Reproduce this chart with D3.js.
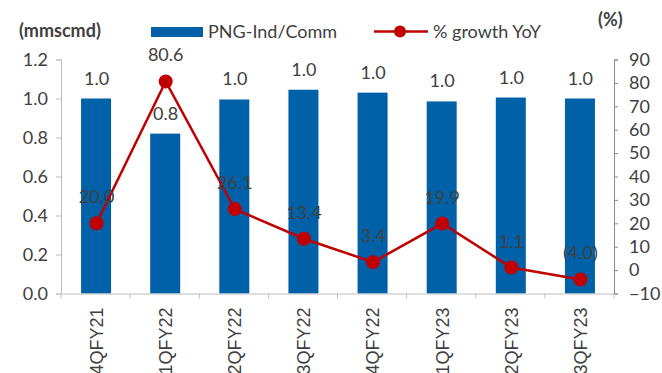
<!DOCTYPE html>
<html>
<head>
<meta charset="utf-8">
<script src="https://cdn.jsdelivr.net/npm/d3@7"></script>
<style>
  body { margin: 0; background: #fff; }
  text { font-family: Lato, "Open Sans", sans-serif; fill: #404040; }
</style>
</head>
<body>
<div id="wrapper"></div>
<script>
const quarters = ['4QFY21', '1QFY22', '2QFY22', '3QFY22', '4QFY22', '1QFY23', '2QFY23', '3QFY23'];
const pngVolume = [1.0, 0.82, 0.995, 1.045, 1.03, 0.985, 1.005, 1.0];
const growthYoY = [20.0, 80.6, 26.1, 13.4, 3.4, 19.9, 1.1, -4.0];
const leftTicks = [0, 0.2, 0.4, 0.6, 0.8, 1.0, 1.2];
const rightTicks = [-10, 0, 10, 20, 30, 40, 50, 60, 70, 80, 90];

function drawChart() {
  const svg = d3.select('#wrapper').append('svg').attr('width', 662).attr('height', 373);

  const x = d3.scaleBand().domain(quarters).range([61, 614]).paddingInner(0).paddingOuter(0);
  const yL = d3.scaleLinear().domain([0, 1.2]).range([293.5, 59.5]);
  const yR = d3.scaleLinear().domain([-10, 90]).range([293.5, 59.5]);

  // left axis
  const left = svg.append('g').attr('transform', 'translate(61,0)')
    .call(d3.axisLeft(yL).tickValues(leftTicks).tickFormat(d3.format('.1f')).tickSizeOuter(0).tickSize(5).tickPadding(8));
  left.selectAll('line, path').attr('stroke', '#bfbfbf');
  left.selectAll('text').style('font-size', '18px').attr('fill', '#404040');

  // right axis
  const right = svg.append('g').attr('transform', 'translate(614,0)')
    .call(d3.axisRight(yR).tickValues(rightTicks).tickSizeOuter(0).tickSize(4).tickPadding(11));
  right.selectAll('line, path').attr('stroke', '#8c8c8c');
  right.selectAll('text').style('font-size', '18px').attr('fill', '#404040');

  // bars
  const barW = 30;
  svg.append('g').selectAll('rect').data(quarters).enter().append('rect')
    .attr('x', d => x(d) + x.bandwidth() / 2 - barW / 2 + 0.5)
    .attr('y', (d, i) => yL(pngVolume[i]))
    .attr('width', barW)
    .attr('height', (d, i) => yL(0) - yL(pngVolume[i]))
    .attr('fill', '#0061a8');

  // x axis
  const bottom = svg.append('g').attr('transform', 'translate(0,293.5)')
    .call(d3.axisBottom(x).tickSize(0).tickSizeOuter(0).tickPadding(0));
  bottom.select('path').attr('stroke', '#bfbfbf');
  bottom.selectAll('text')
    .style('font-size', '18px')
    .style('font-family', '"Liberation Sans", Arial, sans-serif')
    .attr('text-anchor', 'end')
    .attr('transform', 'translate(1,14) rotate(-90)')
    .attr('dy', '0.35em')
    .attr('x', 0).attr('y', 0);
  svg.append('g').selectAll('line').data(quarters).enter().append('line')
    .attr('x1', d => x(d)).attr('x2', d => x(d))
    .attr('y1', 293.5).attr('y2', 298.5)
    .attr('stroke', '#bfbfbf');
  svg.append('line').attr('x1', 614).attr('x2', 614).attr('y1', 293.5).attr('y2', 298.5).attr('stroke', '#bfbfbf');

  // bar labels
  svg.append('g').selectAll('text').data(quarters).enter().append('text')
    .attr('x', d => x(d) + x.bandwidth() / 2 + 1)
    .attr('y', (d, i) => yL(pngVolume[i]) - 14)
    .attr('text-anchor', 'middle')
    .style('font-size', '18px')
    .text((d, i) => d3.format('.1f')(pngVolume[i]));

  // growth line
  const line = d3.line()
    .x((d, i) => x(quarters[i]) + x.bandwidth() / 2 + 1)
    .y(d => yR(d));
  svg.append('path').datum(growthYoY)
    .attr('d', line)
    .attr('fill', 'none')
    .attr('stroke', '#c00000')
    .attr('stroke-width', 2.5);
  svg.append('g').selectAll('circle').data(growthYoY).enter().append('circle')
    .attr('cx', (d, i) => x(quarters[i]) + x.bandwidth() / 2 + 1)
    .attr('cy', d => yR(d))
    .attr('r', 7)
    .attr('fill', '#c00000');
  svg.append('g').selectAll('text').data(growthYoY).enter().append('text')
    .attr('x', (d, i) => x(quarters[i]) + x.bandwidth() / 2 + 1)
    .attr('y', d => yR(d) - 20)
    .attr('text-anchor', 'middle')
    .style('font-size', '18px')
    .text(d => d < 0 ? '(' + d3.format('.1f')(-d) + ')' : d3.format('.1f')(d));

  // axis titles
  svg.append('text').attr('x', 19).attr('y', 37).style('font-size', '18px').style('font-weight', 'bold').text('(mmscmd)');
  svg.append('text').attr('x', 598).attr('y', 26).style('font-size', '18px').style('font-weight', 'bold').text('(%)');

  // legend
  svg.append('rect').attr('x', 151).attr('y', 27).attr('width', 52).attr('height', 10).attr('fill', '#0061a8');
  svg.append('text').attr('x', 208).attr('y', 38).style('font-size', '18px').text('PNG-Ind/Comm');
  svg.append('line').attr('x1', 374).attr('x2', 428).attr('y1', 31.5).attr('y2', 31.5).attr('stroke', '#c00000').attr('stroke-width', 2.5);
  svg.append('circle').attr('cx', 400).attr('cy', 31.5).attr('r', 6).attr('fill', '#c00000');
  svg.append('text').attr('x', 433).attr('y', 38).style('font-size', '18px').text('% growth YoY');
}

drawChart();
</script>
</body>
</html>
